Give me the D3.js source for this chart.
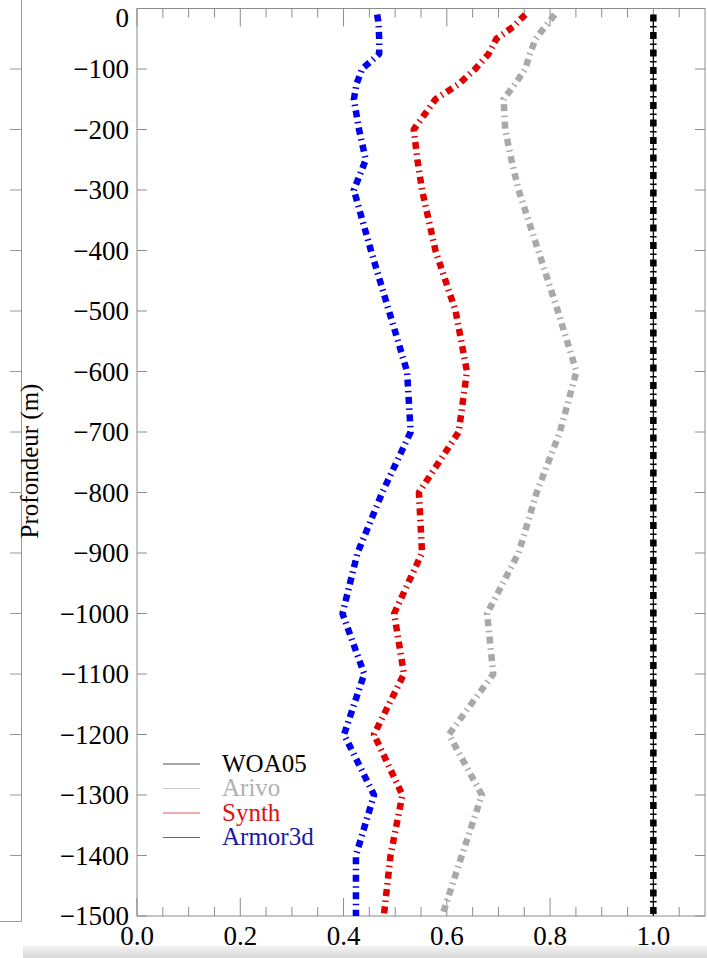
<!DOCTYPE html>
<html lang="fr">
<head>
  <meta charset="utf-8" />
  <title>Profils - Profondeur</title>
  <script type="text/javascript" src="https://cdn.jsdelivr.net/npm/d3@7"></script>
  <style type="text/css">
body { margin: 0; background: white; }
text { font-family: "Liberation Serif", "Times New Roman", serif; }
  </style>
</head>
<body>

<script type="text/javascript">

// depth levels (m) and one value per level for each product
var depths  = [-10, -20, -30, -50, -75, -100, -125, -150, -200, -250, -300, -400, -500,
               -600, -700, -800, -900, -1000, -1100, -1200, -1300, -1400, -1500];
var woa05   = [1.0, 1.0, 1.0, 1.0, 1.0, 1.0, 1.0, 1.0, 1.0, 1.0, 1.0, 1.0, 1.0,
               1.0, 1.0, 1.0, 1.0, 1.0, 1.0, 1.0, 1.0, 1.0, 1.0];
var arivo   = [0.809, 0.800, 0.790, 0.772, 0.761, 0.752, 0.732, 0.710, 0.713, 0.725, 0.739, 0.777, 0.815,
               0.851, 0.819, 0.774, 0.739, 0.678, 0.690, 0.604, 0.668, 0.629, 0.591];
var synth   = [0.752, 0.740, 0.729, 0.696, 0.681, 0.655, 0.623, 0.578, 0.536, 0.543, 0.552, 0.578, 0.617,
               0.639, 0.623, 0.546, 0.552, 0.498, 0.517, 0.459, 0.514, 0.491, 0.478];
var armor3d = [0.465, 0.467, 0.468, 0.469, 0.469, 0.436, 0.425, 0.420, 0.430, 0.443, 0.420, 0.453, 0.488,
               0.523, 0.530, 0.475, 0.427, 0.398, 0.440, 0.401, 0.459, 0.424, 0.424];

var seriesNames  = ["WOA05", "Arivo", "Synth", "Armor3d"];
var seriesColors = ["#000000", "#a9a9a9", "#e00000", "#0000ee"];
var legendColors = ["#000000", "#b0b0b0", "#e01010", "#1818a8"];
var seriesValues = [woa05, arivo, synth, armor3d];

var xMajorTicks = [0.0, 0.2, 0.4, 0.6, 0.8, 1.0];
var xMinorTicks = d3.range(0.05, 1.1, 0.05);
var yTicks = [0, -100, -200, -300, -400, -500, -600, -700, -800, -900, -1000,
              -1100, -1200, -1300, -1400, -1500];

var w = 707;
var h = 958;
var box = { left: 137, right: 705, top: 8.5, bottom: 916 };
var frameColor = "#8c8c8c";

var svg = d3.select("body")
    .append("svg")
    .attr("width", w)
    .attr("height", h);

var xScale = d3.scaleLinear()
    .domain([0, 1.1])
    .range([box.left, box.right]);
var yScale = d3.scaleLinear()
    .domain([0, -1500])
    .range([box.top, box.bottom]);

// light grey strip from the page below, and the edge of the neighbour panel
var grad = svg.append("defs").append("linearGradient")
    .attr("id", "strip").attr("x1", 0).attr("y1", 0).attr("x2", 0).attr("y2", 1);
grad.append("stop").attr("offset", "0%").attr("stop-color", "#f2f2f2");
grad.append("stop").attr("offset", "100%").attr("stop-color", "#d8d8d8");
svg.append("rect")
    .attr("x", 23).attr("y", 946).attr("width", w - 23).attr("height", h - 946)
    .attr("fill", "url(#strip)");

var side = svg.append("g").attr("stroke", "#9a9a9a").attr("stroke-width", 1);
side.append("line").attr("x1", 21.5).attr("x2", 21.5).attr("y1", 0).attr("y2", 921.5);
side.append("line").attr("x1", 0).attr("x2", 21.5).attr("y1", 921.5).attr("y2", 921.5);
side.selectAll("line.t")
    .data(yTicks.slice(1, -1))
  .enter().append("line")
    .attr("class", "t")
    .attr("x1", 10).attr("x2", 21.5)
    .attr("y1", function(d) { return yScale(d); })
    .attr("y2", function(d) { return yScale(d); });

// frame
svg.append("rect")
    .attr("x", box.left).attr("y", box.top)
    .attr("width", box.right - box.left).attr("height", box.bottom - box.top)
    .attr("fill", "none").attr("stroke", frameColor).attr("stroke-width", 1);

// ticks, all pointing inward, on the four sides
var axisG = svg.append("g").attr("stroke", frameColor).attr("stroke-width", 1);
function xTickLines(vals, len) {
  [box.top, box.bottom].forEach(function(y0, k) {
    var dir = k === 0 ? 1 : -1;
    axisG.selectAll(null)
        .data(vals)
      .enter().append("line")
        .attr("x1", function(d) { return xScale(d); })
        .attr("x2", function(d) { return xScale(d); })
        .attr("y1", y0)
        .attr("y2", y0 + dir * len);
  });
}
xTickLines(xMajorTicks, 18);
xTickLines(xMinorTicks.filter(function(d) {
  return Math.abs(d * 5 - Math.round(d * 5)) > 1e-6;
}), 9);
[box.left, box.right].forEach(function(x0, k) {
  var dir = k === 0 ? 1 : -1;
  axisG.selectAll(null)
      .data(yTicks)
    .enter().append("line")
      .attr("x1", x0)
      .attr("x2", x0 + dir * 10)
      .attr("y1", function(d) { return yScale(d); })
      .attr("y2", function(d) { return yScale(d); });
});

// tick labels
svg.append("g").selectAll("text")
    .data(yTicks)
  .enter().append("text")
    .attr("x", box.left - 8)
    .attr("y", function(d) { return d === 0 ? yScale(d) + 9 : yScale(d); })
    .attr("dy", "0.34em")
    .attr("text-anchor", "end")
    .attr("font-size", 27)
    .text(function(d) { return d === 0 ? "0" : "\u2212" + Math.abs(d); });

svg.append("g").selectAll("text")
    .data(xMajorTicks)
  .enter().append("text")
    .attr("x", function(d) { return xScale(d); })
    .attr("y", 945)
    .attr("text-anchor", "middle")
    .attr("font-size", 27)
    .text(function(d) { return d.toFixed(1); });

svg.append("text")
    .attr("transform", "translate(38,461) rotate(-90)")
    .attr("text-anchor", "middle")
    .attr("font-size", 25)
    .text("Profondeur (m)");

// profiles
var line = d3.line()
    .x(function(d) { return xScale(d[1]); })
    .y(function(d) { return yScale(d[0]); });

var plot = svg.append("g");
// thin solid line under the reference profile
plot.append("path")
    .attr("d", line(d3.zip(depths, woa05)))
    .attr("fill", "none")
    .attr("stroke", "#000")
    .attr("stroke-width", 1.2);

plot.selectAll("path.profile")
    .data(seriesValues)
  .enter().append("path")
    .attr("class", "profile")
    .attr("d", function(vals) { return line(d3.zip(depths, vals)); })
    .attr("fill", "none")
    .attr("stroke", function(d, i) { return seriesColors[i]; })
    .attr("stroke-width", 6.5)
    .attr("stroke-linejoin", "round")
    .attr("stroke-dasharray", "7,4.5,1.5,4.5");

// legend
var legend = svg.append("g");
var legendRows = legend.selectAll("g")
    .data(seriesNames)
  .enter().append("g")
    .attr("transform", function(d, i) { return "translate(0," + (764 + i * 24.5) + ")"; });
legendRows.append("line")
    .attr("x1", 163).attr("x2", 200)
    .attr("y1", 0).attr("y2", 0)
    .attr("stroke", function(d, i) { return legendColors[i]; })
    .attr("stroke-opacity", 0.7)
    .attr("stroke-width", 1);
legendRows.append("text")
    .attr("x", 222)
    .attr("y", 0)
    .attr("dy", "0.3em")
    .attr("font-size", 25)
    .attr("fill", function(d, i) { return legendColors[i]; })
    .text(function(d) { return d; });

</script>

</body>
</html>
